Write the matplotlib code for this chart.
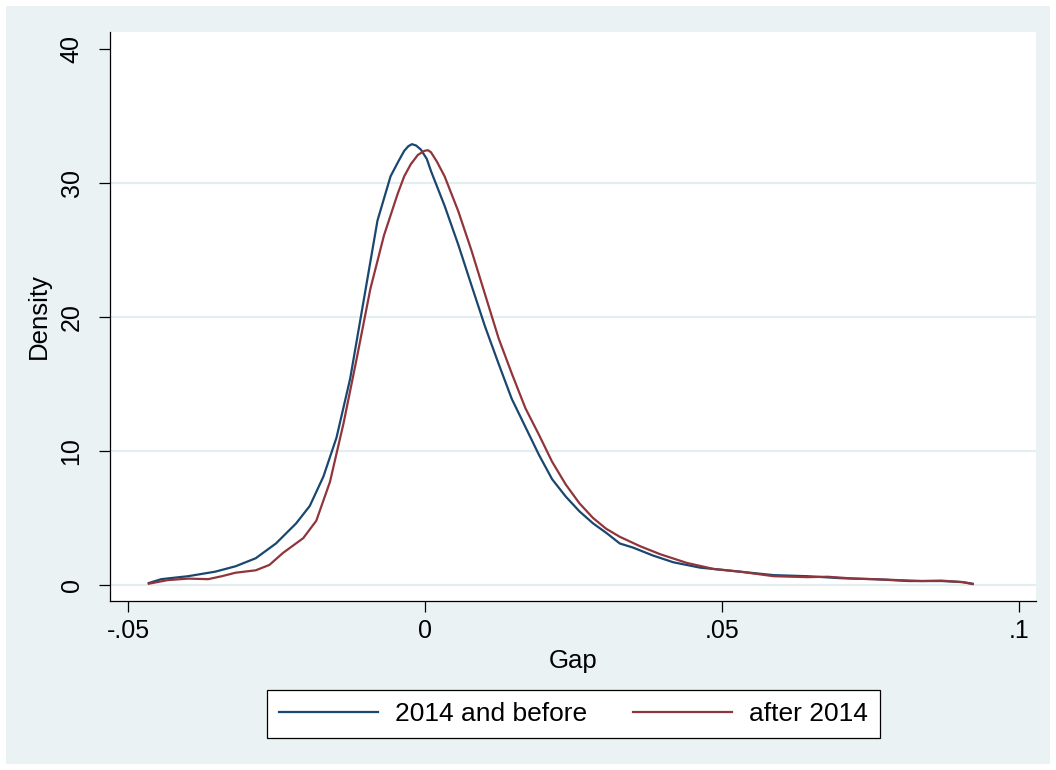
import matplotlib
matplotlib.use("Agg")
import matplotlib.pyplot as plt
from matplotlib.patches import Rectangle

plt.rcParams['font.family'] = ['Liberation Sans', 'DejaVu Sans']

# Kernel density estimates
gap_before = [-0.0465, -0.0444, -0.0399, -0.0353, -0.0319, -0.0285, -0.0251, -0.0217,
              -0.0194, -0.0171, -0.0149, -0.0126, -0.0103, -0.0080, -0.0058, -0.0045,
              -0.0035, -0.0028, -0.0022, -0.0015, -0.0007, 0.0003, 0.0010, 0.0033,
              0.0056, 0.0078, 0.0101, 0.0124,
              0.0146, 0.0169, 0.0192, 0.0214, 0.0237, 0.0260, 0.0283, 0.0305,
              0.0328, 0.0350, 0.0384, 0.0418, 0.0463, 0.0508, 0.0530, 0.0587,
              0.0644, 0.0701, 0.0757, 0.0814, 0.0870, 0.0905, 0.0922]
dens_before = [0.15, 0.44, 0.66, 1.0, 1.4, 2.0, 3.1, 4.6,
               5.9, 8.1, 11.0, 15.4, 21.3, 27.2, 30.5, 31.6,
               32.4, 32.75, 32.9, 32.8, 32.5, 31.8, 30.9, 28.3,
               25.4, 22.4, 19.3, 16.5,
               13.9, 11.8, 9.7, 7.9, 6.6, 5.5, 4.6, 3.9,
               3.1, 2.8, 2.2, 1.7, 1.3, 1.1, 1.0, 0.74,
               0.66, 0.51, 0.44, 0.30, 0.30, 0.22, 0.10]

gap_after = [-0.0465, -0.0433, -0.0399, -0.0365, -0.0342, -0.0319, -0.0285, -0.0262,
             -0.0239, -0.0205, -0.0183, -0.0160, -0.0137, -0.0115, -0.0092, -0.0069,
             -0.0046, -0.0035, -0.0024, -0.0012, -0.0001, 0.0005, 0.0010, 0.0020,
             0.0033, 0.0056, 0.0078, 0.0101,
             0.0124, 0.0146, 0.0169, 0.0192, 0.0214, 0.0237, 0.0260, 0.0283,
             0.0305, 0.0328, 0.0362, 0.0396, 0.0441, 0.0486, 0.0530, 0.0587,
             0.0644, 0.0678, 0.0723, 0.0779, 0.0836, 0.0870, 0.0905, 0.0922]
dens_after = [0.10, 0.37, 0.48, 0.44, 0.66, 0.92, 1.1, 1.5,
              2.4, 3.5, 4.8, 7.7, 12.1, 16.9, 22.1, 26.1,
              29.2, 30.5, 31.4, 32.1, 32.4, 32.45, 32.3, 31.6,
              30.5, 27.9, 25.0, 21.7,
              18.4, 15.8, 13.2, 11.2, 9.2, 7.5, 6.1, 5.0,
              4.2, 3.6, 2.9, 2.3, 1.65, 1.2, 1.0, 0.66,
              0.59, 0.62, 0.48, 0.40, 0.30, 0.33, 0.22, 0.07]

labels = ['2014 and before', 'after 2014']
xticks = [-0.05, 0, 0.05, 0.1]
xticklabels = ['-.05', '0', '.05', '.1']
yticks = [0, 10, 20, 30, 40]

W, H = 1056, 770
fig = plt.figure(figsize=(W / 100, H / 100), dpi=100, facecolor='white')
fig.patches.append(Rectangle((6 / W, 6 / H), 1 - 12 / W, 1 - 12 / H,
                             transform=fig.transFigure, facecolor='#EAF2F3',
                             edgecolor='none', zorder=-10))

ax = fig.add_axes([110 / W, 1 - 601 / H, (1036 - 110) / W, (601 - 32) / H])
ax.set_facecolor('white')

ax.plot(gap_before, dens_before, color='#1A476F', lw=1.6, label=labels[0])
ax.plot(gap_after, dens_after, color='#90353B', lw=1.6, label=labels[1])

ax.set_xlim(-0.05303, 0.10286)
ax.set_ylim(-1.19, 41.27)
ax.set_xticks(xticks)
ax.set_xticklabels(xticklabels)
ax.set_yticks(yticks)
ax.set_yticklabels([str(t) for t in yticks], rotation=90, va='center')

# gridlines (Stata leaves out the top one)
for t in yticks[:-1]:
    ax.axhline(t, color='#E4EEF0', lw=1.6, zorder=0)

for s in ['top', 'right']:
    ax.spines[s].set_visible(False)
for s in ['left', 'bottom']:
    ax.spines[s].set_linewidth(0.9)
    ax.spines[s].set_color('black')

ax.tick_params(axis='both', direction='out', length=8, width=0.9, labelsize=18)
ax.tick_params(axis='y', pad=11)
ax.tick_params(axis='x', pad=5)

ax.set_xlabel('Gap', fontsize=18.5, labelpad=4)
ax.set_ylabel('Density', fontsize=18.5, labelpad=6)

leg = fig.legend(loc='center', bbox_to_anchor=(573.5 / W, 1 - 714 / H), ncol=2,
                 fontsize=19, frameon=True, fancybox=False, shadow=False,
                 handlelength=3.75, handletextpad=0.64, columnspacing=1.74,
                 borderpad=0.45)
leg.get_frame().set_edgecolor('black')
leg.get_frame().set_linewidth(0.9)
leg.get_frame().set_facecolor('white')
leg.get_frame().set_alpha(1)

fig.savefig('out.png', dpi=100, facecolor=fig.get_facecolor())
